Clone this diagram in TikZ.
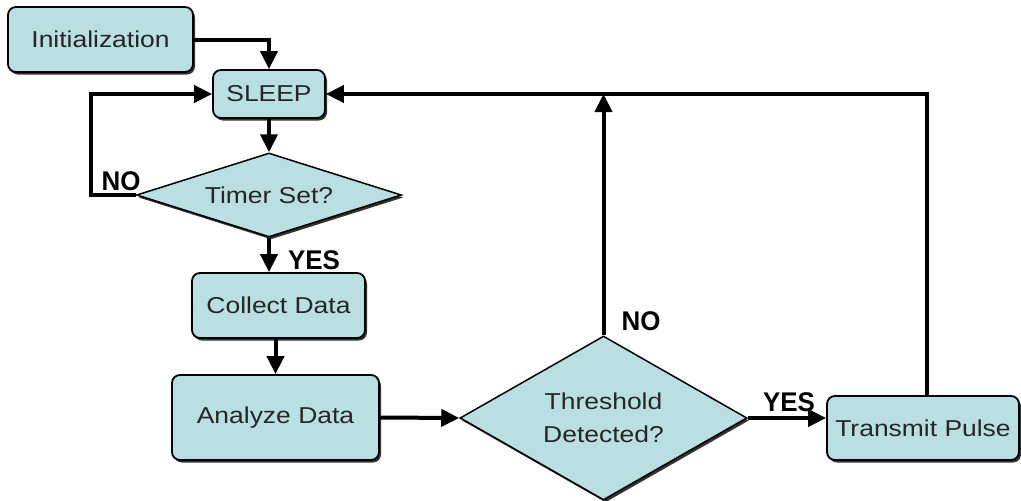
\documentclass[tikz,border=0pt]{standalone}
\usepackage{fontspec}
\setmainfont{Liberation Sans}[FakeStretch=1.15]
\newfontfamily\labelfont{Liberation Sans}[FakeStretch=0.96]
\usetikzlibrary{arrows.meta,shapes.geometric,shadows}
\definecolor{boxfill}{RGB}{185,223,226}
\begin{document}
\begin{tikzpicture}[x=1pt,y=-1pt,
  shade/.style={drop shadow={shadow xshift=2pt, shadow yshift=-2.5pt, fill=black!80, opacity=1}},
  procbox/.style={draw=black, line width=1.8pt, rounded corners=8pt, fill=boxfill,
    inner sep=0pt, shade, font=\fontsize{23}{27}\selectfont, text=black!85},
  decision/.style={diamond, draw=black, line width=1.5pt, fill=boxfill, inner sep=0pt,
    shade, font=\fontsize{23}{33}\selectfont, text=black!85, align=center},
  flow/.style={line width=4pt, -{Triangle[length=18pt,width=17pt]}},
  tag/.style={font=\labelfont\bfseries\fontsize{27}{30}\selectfont}
]
\useasboundingbox (0,0) rectangle (1021,501);

% process boxes and decisions
\node[procbox, minimum width=185pt, minimum height=65pt] (init) at (100.5,39.5) {Initialization};
\node[procbox, minimum width=112pt, minimum height=48pt] (sleep) at (269,94) {SLEEP};
\node[decision, minimum width=265pt, minimum height=84pt, aspect=3.15] (timer) at (269,195) {Timer Set?};
\node[procbox, minimum width=173pt, minimum height=65pt] (collect) at (278.5,305.5) {Collect Data};
\node[procbox, minimum width=207pt, minimum height=85pt] (analyze) at (275.5,417.5) {Analyze Data};
\node[decision, minimum width=287pt, minimum height=164pt, aspect=1.75] (thr) at (603.5,418) {Threshold\\Detected?};
\node[procbox, minimum width=192pt, minimum height=64pt] (transmit) at (923,428) {Transmit Pulse};
\coordinate (txup) at ([xshift=4pt]transmit.north);

% connectors
\draw[flow] (init.east) -| (sleep.north);
\draw[flow] (sleep.south) -- (timer.north);
\draw[flow] (timer.west) -- ++(-45,0) |- (sleep.west);
\draw[flow] (timer.south) -- (timer.south |- collect.north);
\draw[flow] (analyze.north |- collect.south) -- (analyze.north);
\draw[flow] (analyze.east) -- (thr.west);
\draw[flow] (thr.north) -- (thr.north |- sleep.east);
\draw[flow] (txup) |- (sleep.east);
\draw[flow] (thr.east) -- (thr.east -| transmit.west);

% branch labels
\node[tag] (timerno) at (121,181) {NO};
\node[tag] (timeryes) at (314,260) {YES};
\node[tag] (thrno) at (641,321) {NO};
\node[tag] (thryes) at (789,402) {YES};
\end{tikzpicture}
\end{document}
